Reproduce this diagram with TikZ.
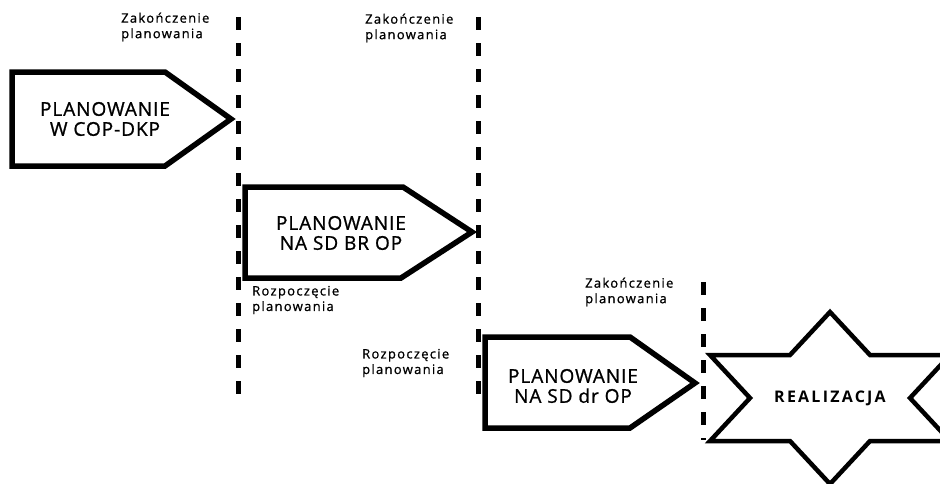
\documentclass[tikz,border=0pt]{standalone}
\usepackage{fontspec}
\setmainfont{Open Sans}
\newfontfamily\labfont[LetterSpace=10,FakeBold=1]{Open Sans}
\newfontfamily\boxfont[LetterSpace=5,FakeBold=1]{Open Sans}
\newfontfamily\starfont[LetterSpace=14]{Open Sans}
\begin{document}
\begin{tikzpicture}[x=1pt,y=-1pt,
  shapeline/.style={line width=5.5pt, line join=miter},
  starline/.style={line width=4.5pt, line join=miter},
  cutline/.style={line width=5pt, dash pattern=on 13pt off 13pt},
  boxtext/.style={align=center, font=\boxfont\fontsize{19}{20}\selectfont, inner sep=0pt},
  labtext/.style={align=left, anchor=west, font=\labfont\fontsize{13}{15.5}\selectfont, inner sep=0pt},
  startext/.style={font=\starfont\bfseries\fontsize{16}{16}\selectfont, inner sep=0pt}]
\useasboundingbox (0,0) rectangle (940,483);
\clip (0,0) rectangle (940,483);

% dashed cut lines
\coordinate (c1a) at (238,17);  \coordinate (c1b) at (238,394);
\coordinate (c2a) at (478,17);  \coordinate (c2b) at (478,394);
\coordinate (c3a) at (703,282); \coordinate (c3b) at (703,440);
\draw[cutline] (c1a) -- (c1b);
\draw[cutline] (c2a) -- (c2b);
\draw[cutline] (c3a) -- (c3b);

% arrow shapes
\draw[shapeline] (12,72) -- (165,72) -- (231,119) -- (165,166) -- (12,166) -- cycle;
\draw[shapeline] (245,187) -- (403,187) -- (472,232) -- (401,278) -- (245,278) -- cycle;
\draw[shapeline] (485,337) -- (630,337) -- (695,383) -- (630,428) -- (485,428) -- cycle;

% star
\draw[starline] (830,312) -- (870,355) -- (950,355) -- (910,398) -- (950,441) -- (870,441)
  -- (830,484) -- (790,441) -- (710,441) -- (750,398) -- (710,355) -- (790,355) -- cycle;

% texts
\node[boxtext] (t1) at (105,119) {PLANOWANIE\\W COP-DKP};
\node[boxtext] (t2) at (341,233) {PLANOWANIE\\NA SD BR OP};
\node[boxtext] (t3) at (573,386) {PLANOWANIE\\NA SD dr OP};
\node[startext] (t4) at (830,398) {REALIZACJA};

\node[labtext] (l1) at (121,27) {Zakończenie\\planowania};
\node[labtext] (l2) at (365,28) {Zakończenie\\planowania};
\node[labtext] (l3) at (585,292) {Zakończenie\\planowania};
\node[labtext] (r1) at (252,300) {Rozpoczęcie\\planowania};
\node[labtext] (r2) at (362,363) {Rozpoczęcie\\planowania};
\end{tikzpicture}
\end{document}
